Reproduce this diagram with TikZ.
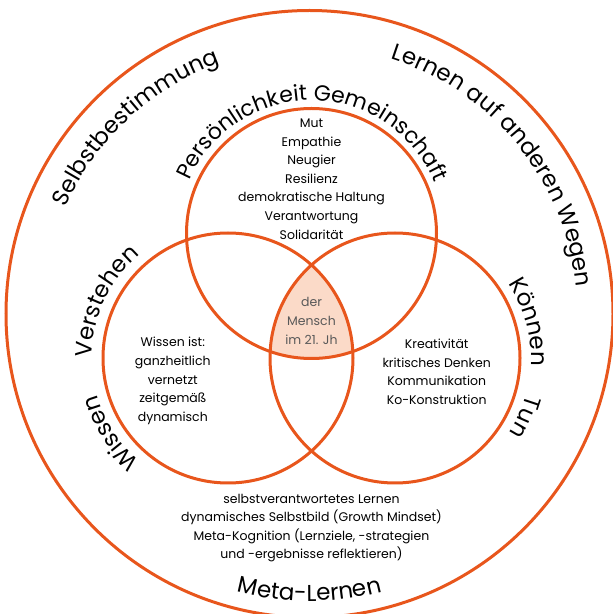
\documentclass[tikz,border=0pt]{standalone}
\usepackage{fontspec}
\setmainfont{Poppins}
\usetikzlibrary{decorations.text}
\definecolor{orangeline}{HTML}{E8561C}
\definecolor{peach}{HTML}{FBDAC8}
\newcommand\bogenfont{\fontsize{23}{23}\selectfont}
\newcommand\kreisfont{\fontsize{22}{22}\selectfont}

\begin{document}
\begin{tikzpicture}[x=1pt, y=1pt,
    ring/.style={draw=orangeline, line width=3pt},
    liste/.style={align=center, inner sep=0pt, font=\fontsize{12.5}{18.6}\selectfont},
    bogen/.style={decorate, decoration={text along path, text align=center, text={#1}}}]
  %venn mensch im 21. jh
  \useasboundingbox (0,0) rectangle (613,614);
  \coordinate (O) at (309.5,300);
  \coordinate (T) at (311.5,380.5);
  \coordinate (L) at (228,256);
  \coordinate (R) at (395,256);
  \begin{scope}
    \clip (T) circle[radius=125];
    \clip (L) circle[radius=125];
    \fill[peach] (R) circle[radius=125];
  \end{scope}
  \draw[ring] (O) circle[radius=303.5];
  \draw[ring] (T) circle[radius=125];
  \draw[ring] (L) circle[radius=125];
  \draw[ring] (R) circle[radius=125];
  % texte in den kreisen
  \node[liste] (werte) at (311.5,435) {Mut\\Empathie\\Neugier\\Resilienz\\demokratische Haltung\\Verantwortung\\Solidarität};
  \node[liste] (wissen) at (172.8,233) {Wissen ist:\\ganzheitlich\\vernetzt\\zeitgemäß\\dynamisch};
  \node[liste] (koennen) at (436.7,242) {Kreativität\\kritisches Denken\\Kommunikation\\Ko-Konstruktion};
  \node[liste, text=black!65] (mensch) at (311.5,293) {der\\Mensch\\im 21. Jh};
  \node[liste] (meta) at (311.5,86) {selbstverantwortetes Lernen\\dynamisches Selbstbild (Growth Mindset)\\Meta-Kognition (Lernziele, -strategien\\und -ergebnisse reflektieren)};
  % texte auf den boegen
  \path[bogen={|\bogenfont|Selbstbestimmung}] (O) ++(175:266) arc[start angle=175, end angle=91, radius=266];
  \path[bogen={|\bogenfont|Lernen auf anderen Wegen}] (O) ++(89:268) arc[start angle=89, end angle=-11, radius=268];
  \path[bogen={|\bogenfont|Meta-Lernen}] (O) ++(240:287) arc[start angle=240, end angle=300, radius=287];
  \path[bogen={|\kreisfont|Persönlichkeit Gemeinschaft}] (T) ++(165:133) arc[start angle=165, end angle=14, radius=133];
  \path[bogen={|\bogenfont|Verstehen}] (L) ++(185:136) arc[start angle=185, end angle=125, radius=136];
  \path[bogen={|\bogenfont|Wissen}] (L) ++(240:136) arc[start angle=240, end angle=185, radius=136];
  \path[bogen={|\bogenfont|Können}] (R) ++(45:136) arc[start angle=45, end angle=-15, radius=136];
  \path[bogen={|\bogenfont|Tun}] (R) ++(-10:136) arc[start angle=-10, end angle=-39, radius=136];
\end{tikzpicture}
\end{document}
